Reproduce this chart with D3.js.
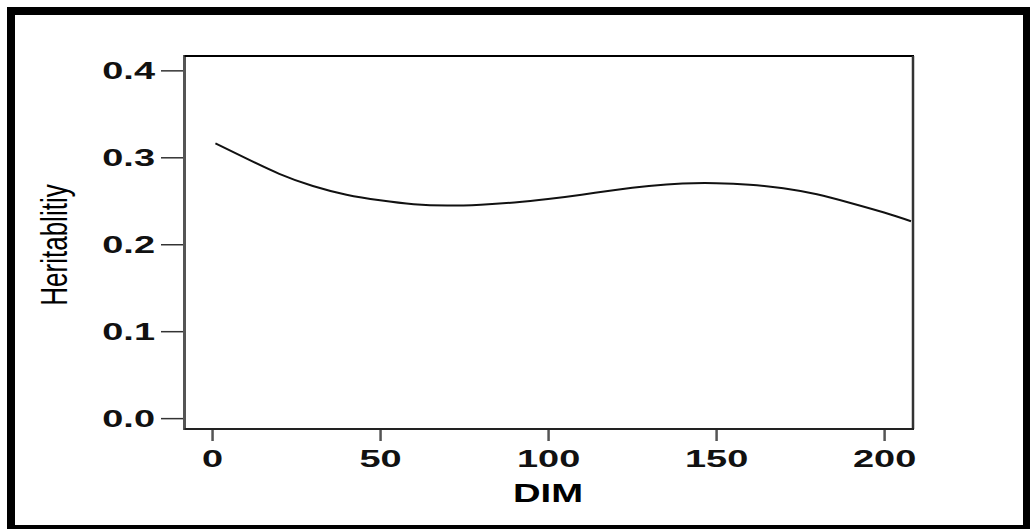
<!DOCTYPE html>
<html>
<head>
<meta charset="utf-8">
<script src="https://cdn.jsdelivr.net/npm/d3@7"></script>
<style>
  html, body { margin: 0; padding: 0; background: #fff; }
  svg { display: block; }
</style>
</head>
<body>
<div id="chart"></div>
<script>
// DIM (days in milk) and estimated heritability
const dim = [1, 10, 20, 30, 40, 50, 60, 70, 80, 90, 100, 110, 120, 130, 140, 150, 160, 170, 180, 190, 200, 208];
const heritability = [0.316, 0.299, 0.281, 0.267, 0.257, 0.2505, 0.246, 0.2445, 0.2455, 0.248, 0.252,
  0.257, 0.2625, 0.267, 0.2698, 0.2702, 0.2685, 0.2645, 0.2575, 0.2475, 0.2365, 0.2265];
const xTicks = [0, 50, 100, 150, 200];
const yTicks = [0.0, 0.1, 0.2, 0.3, 0.4];

const width = 1030;
const height = 529;
const plotLeft = 184.5, plotRight = 913, plotTop = 56, plotBottom = 429;
const sx = 1.65; // the picture is stretched sideways, so text is too

const x = d3.scaleLinear().domain([-8.2, 208.6]).range([plotLeft, plotRight]);
const y = d3.scaleLinear().domain([-0.0125, 0.4165]).range([plotBottom, plotTop]);

const svg = d3.select("#chart")
  .append("svg")
  .attr("width", width)
  .attr("height", height)
  .style("font-family", "'Liberation Sans', Arial, sans-serif");

svg.append("rect").attr("width", width).attr("height", height).attr("fill", "#fff");

// outer frame
svg.append("rect")
  .attr("x", 11).attr("y", 11)
  .attr("width", 1016).attr("height", 518)
  .attr("fill", "none")
  .attr("stroke", "#000")
  .attr("stroke-width", 8);

// y axis
const yAxis = svg.append("g")
  .attr("transform", `translate(${plotLeft - 1.5},0)`)
  .call(d3.axisLeft(y).tickValues(yTicks).tickFormat(d3.format(".1f")).tickSize(22).tickSizeOuter(0));
yAxis.select(".domain").remove();
yAxis.selectAll(".tick line").attr("stroke", "#333").attr("stroke-width", 1.5);
yAxis.selectAll(".tick text")
  .attr("fill", "#111")
  .style("font-size", "23px")
  .style("font-weight", "bold")
  .attr("x", -28 / sx)
  .attr("dy", "0.36em")
  .attr("transform", `scale(${sx},1)`);

// x axis
const xAxis = svg.append("g")
  .attr("transform", `translate(0,${plotBottom})`)
  .call(d3.axisBottom(x).tickValues(xTicks).tickSize(12).tickSizeOuter(0));
xAxis.select(".domain").remove();
xAxis.selectAll(".tick line").attr("stroke", "#555").attr("stroke-width", 2.5);
xAxis.selectAll(".tick text")
  .attr("fill", "#111")
  .style("font-size", "23px")
  .style("font-weight", "bold")
  .attr("y", 38.5)
  .attr("dy", 0)
  .attr("transform", `scale(${sx},1)`);

// plot box
svg.append("line").attr("x1", plotLeft).attr("x2", plotLeft).attr("y1", plotTop - 1).attr("y2", plotBottom + 1)
  .attr("stroke", "#555").attr("stroke-width", 3);
svg.append("line").attr("x1", plotLeft).attr("x2", plotRight + 1).attr("y1", plotTop).attr("y2", plotTop)
  .attr("stroke", "#000").attr("stroke-width", 2);
svg.append("line").attr("x1", plotRight).attr("x2", plotRight).attr("y1", plotTop).attr("y2", plotBottom)
  .attr("stroke", "#333").attr("stroke-width", 2.5);
svg.append("line").attr("x1", plotLeft).attr("x2", plotRight + 1).attr("y1", plotBottom).attr("y2", plotBottom)
  .attr("stroke", "#222").attr("stroke-width", 2);

// curve
const line = d3.line()
  .x((d, i) => x(dim[i]))
  .y(d => y(d))
  .curve(d3.curveNatural);

svg.append("path")
  .datum(heritability)
  .attr("fill", "none")
  .attr("stroke", "#111")
  .attr("stroke-width", 2)
  .attr("d", line);

// axis titles
svg.append("text")
  .attr("transform", `translate(548,502) scale(1.53,1)`)
  .attr("text-anchor", "middle")
  .style("font-size", "25px")
  .style("font-weight", "bold")
  .attr("fill", "#000")
  .text("DIM");

svg.append("text")
  .attr("transform", `translate(66.5,245) scale(1.43,1) rotate(-90)`)
  .attr("text-anchor", "middle")
  .style("font-size", "26px")
  .attr("fill", "#000")
  .text("Heritablitiy");
</script>
</body>
</html>
